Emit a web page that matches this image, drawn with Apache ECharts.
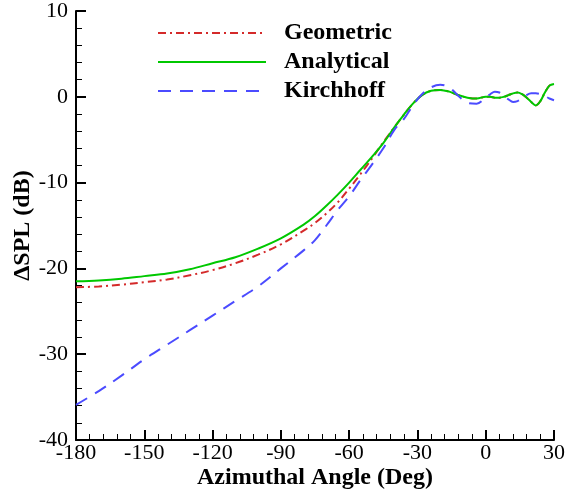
<!DOCTYPE html>
<html>
<head>
<meta charset="utf-8">
<script src="https://cdn.jsdelivr.net/npm/echarts@6/dist/echarts.min.js"></script>
<style>html,body{margin:0;padding:0;background:#fff}#c{width:568px;height:497px}</style>
</head>
<body>
<div id="c"></div>
<script>
const angles = [-180,-170,-160,-150,-140,-130,-120,-110,-100,-90,
  -80,-75,-70,-65,-60,-55,-50,-45,-40,
  -36,-32,-28,-24,-20,-16,-12,-8,-4,0,
  2,4,6,8,10,12,14,16,18,20,22,24,26,28,30];
const geometric = [-22.2,-22.1,-21.9,-21.6,-21.3,-20.8,-20.2,-19.4,-18.4,-17.2,
  -15.6,-14.7,-13.6,-12.3,-10.7,-9.0,-7.2,-5.3,-3.5,
  -2.1,-0.8,0.2,0.7,0.8,0.6,0.2,-0.1,-0.2,0.0,
  0.0,-0.1,-0.1,0.0,0.2,0.4,0.5,0.3,-0.1,-0.6,-1.0,-0.5,0.5,1.3,1.5];
const analytical = [-21.5,-21.4,-21.2,-20.9,-20.6,-20.1,-19.4,-18.7,-17.7,-16.5,
  -14.9,-13.9,-12.7,-11.4,-10.0,-8.5,-7.0,-5.4,-3.5,
  -2.1,-0.8,0.2,0.7,0.8,0.6,0.2,-0.1,-0.2,0.0,
  0.0,-0.1,-0.1,0.0,0.2,0.4,0.5,0.3,-0.1,-0.6,-1.0,-0.5,0.5,1.3,1.5];
const kirchhoff = [-35.9,-34.3,-32.5,-30.6,-28.9,-27.2,-25.5,-23.8,-22.1,-20.0,
  -17.9,-16.7,-15.0,-13.2,-11.6,-9.7,-7.9,-6.0,-3.8,
  -2.6,-1.0,0.3,1.1,1.4,1.1,0.1,-0.7,-0.8,-0.1,
  0.3,0.6,0.5,0.1,-0.3,-0.6,-0.5,-0.2,0.2,0.4,0.4,0.3,0.1,-0.2,-0.4];
const xTicks = [-180,-150,-120,-90,-60,-30,0,30];
const yTicks = [-40,-30,-20,-10,0,10];
const seriesNames = ['Geometric','Analytical','Kirchhoff'];

const serif = "'Liberation Serif','Times New Roman',serif";
const pair = arr => angles.map((a,i)=>[a,arr[i]]);

const chart = echarts.init(document.getElementById('c'), null, {renderer:'canvas'});
chart.setOption({
  animation:false,
  backgroundColor:'#fff',
  grid:{left:76,right:9,top:10,bottom:57,containLabel:false},
  legend:{
    orient:'vertical', left:157, top:21, padding:0,
    itemWidth:108, itemHeight:14, itemGap:5,
    data:seriesNames,
    itemStyle:{color:'rgba(0,0,0,0)',borderWidth:0,opacity:0},
    textStyle:{fontFamily:serif,fontWeight:'bold',fontSize:24,color:'#000',lineHeight:24,padding:[0,0,0,13]}
  },
  xAxis:{
    type:'value', min:xTicks[0], max:xTicks[xTicks.length-1], interval:30,
    name:'Azimuthal Angle (Deg)', nameLocation:'middle', nameGap:26, nameMoveOverlap:false,
    nameTextStyle:{fontFamily:serif,fontWeight:'bold',fontSize:24,color:'#000'},
    axisLine:{show:true,onZero:false,lineStyle:{color:'#000',width:2}},
    axisTick:{show:true,inside:true,length:10,lineStyle:{color:'#000',width:2}},
    minorTick:{show:true,splitNumber:5,length:6,lineStyle:{color:'#000',width:1}},
    axisLabel:{fontFamily:serif,fontSize:22,color:'#000',margin:2},
    splitLine:{show:false}
  },
  yAxis:{
    type:'value', min:yTicks[0], max:yTicks[yTicks.length-1], interval:10,
    name:'\u0394SPL (dB)', nameLocation:'middle', nameGap:41, nameMoveOverlap:false,
    nameTextStyle:{fontFamily:serif,fontWeight:'bold',fontSize:24,color:'#000'},
    axisLine:{show:true,onZero:false,lineStyle:{color:'#000',width:2}},
    axisTick:{show:true,inside:true,length:10,lineStyle:{color:'#000',width:2}},
    minorTick:{show:true,splitNumber:5,length:6,lineStyle:{color:'#000',width:1}},
    axisLabel:{fontFamily:serif,fontSize:22,color:'#000',margin:8},
    splitLine:{show:false}
  },
  series:[
    {name:seriesNames[0],type:'line',data:pair(geometric),symbol:'none',smooth:0.35,z:2,
     lineStyle:{color:'#d42a2a',width:2,type:[8,4,2,4]},itemStyle:{color:'#d42a2a'}},
    {name:seriesNames[1],type:'line',data:pair(analytical),symbol:'none',smooth:0.35,z:3,
     lineStyle:{color:'#00c800',width:2,type:'solid'},itemStyle:{color:'#00c800'}},
    {name:seriesNames[2],type:'line',data:pair(kirchhoff),symbol:'none',smooth:0.35,z:4,
     lineStyle:{color:'#4b4bff',width:2,type:[13,9]},itemStyle:{color:'#4b4bff'}}
  ]
});
</script>
</body>
</html>
